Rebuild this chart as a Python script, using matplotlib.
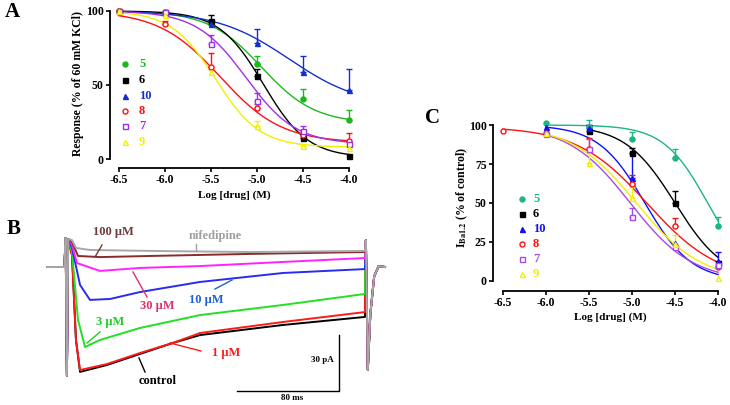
import numpy as np
import matplotlib
matplotlib.use('Agg')
import matplotlib.pyplot as plt
from matplotlib.lines import Line2D

plt.rcParams['font.family'] = ['Liberation Serif', 'DejaVu Serif']
plt.rcParams['font.weight'] = 'bold'
plt.rcParams['mathtext.fontset'] = 'stix'
plt.rcParams['axes.unicode_minus'] = False

W, H = 730, 405

# ---------------- data: panel A (contraction, % of 60 mM KCl) ----------------
compounds = ['5', '6', '10', '8', '7', '9']
a_dose = [-6.5, -6.0, -5.5, -5.0, -4.5, -4.0]
a_xticklabels = ['-6.5', '-6.0', '-5.5', '-5.0', '-4.5', '-4.0']
a_yticks = [0, 50, 100]

a_resp_5 = [100, 99.0, 91.0, 64.5, 40.5, 26.5]
a_resp_6 = [100, 99.5, 93.0, 56.0, 14.5, 2.3]
a_resp_10 = [100, 99.0, 91.0, 78.5, 59.0, 46.5]
a_resp_8 = [100, 91.5, 62.0, 34.5, 16.0, 12.0]
a_resp_7 = [100, 99.3, 78.0, 39.5, 19.0, 10.0]
a_resp_9 = [100, 97.5, 58.5, 22.5, 8.5, 7.7]

a_err_5 = [0, 0, 2.0, 5.0, 7.0, 6.5]
a_err_6 = [0, 0, 4.0, 4.5, 2.0, 0]
a_err_10 = [0, 0, 2.0, 9.0, 10.8, 14.0]
a_err_8 = [0, 2.0, 9.5, 3.0, 2.0, 5.4]
a_err_7 = [0, 0, 6.0, 5.2, 3.0, 0]
a_err_9 = [0, 0, 0, 3.0, 1.5, 0]

# fitted curve parameters: top, bottom, logIC50, Hill slope
a_fit_5 = [100, 24, -4.95, 1.5]
a_fit_6 = [100, 1, -4.93, 1.8]
a_fit_10 = [100, 35, -4.65, 1.1]
a_fit_8 = [100, 11, -5.40, 1.3]
a_fit_7 = [100, 10, -5.12, 1.6]
a_fit_9 = [100, 8, -5.45, 1.8]

# ---------------- data: panel C (I_Ba1.2, % of control) ----------------
c_xticks = [-6.5, -6.0, -5.5, -5.0, -4.5, -4.0]
c_xticklabels = ['-6.5', '-6.0', '-5.5', '-5.0', '-4.5', '-4.0']
c_yticks = [0, 25, 50, 75, 100]

c_dose_5 = [-6.0, -5.5, -5.0, -4.5, -4.0]
c_resp_5 = [101.5, 99.0, 90.8, 79.0, 35.1]
c_err_5 = [0, 4.0, 5.0, 5.4, 6.0]
c_fit_5 = [100, 0, -4.12, 1.7]

c_dose_6 = [-5.5, -5.0, -4.5, -4.0]
c_resp_6 = [96.1, 81.8, 50.3, 11.6]
c_err_6 = [3.9, 3.2, 7.5, 0]
c_fit_6 = [100, 0, -4.50, 1.5]

c_dose_10 = [-6.0, -5.5, -5.0, -4.5, -4.0]
c_resp_10 = [98.5, 98.0, 66.0, 24.4, 12.5]
c_err_10 = [0, 2.0, 16.0, 0, 6.0]
c_fit_10 = [100, 0, -4.85, 1.6]

c_dose_8 = [-6.5, -6.0, -5.5, -5.0, -4.5, -4.0]
c_resp_8 = [96.1, 95.1, 84.4, 61.9, 35.1, 9.0]
c_err_8 = [0, 0, 7.0, 6.0, 5.0, 0]
c_fit_8 = [99, 0, -4.82, 1.05]

c_dose_7 = [-6.0, -5.5, -5.0, -4.5, -4.0]
c_resp_7 = [94.0, 84.4, 41.1, 21.8, 10.5]
c_err_7 = [0, 6.4, 5.4, 0, 0]
c_fit_7 = [100, 0, -5.02, 1.2]

c_dose_9 = [-6.0, -5.5, -5.0, -4.5, -4.0]
c_resp_9 = [94.6, 75.8, 53.5, 24.0, 1.9]
c_err_9 = [0, 7.0, 7.0, 5.3, 0]
c_fit_9 = [100, 0, -4.95, 1.15]

# ---------------- data: panel B (current traces, ms / pA) ----------------
trace_labels = ['control', '1 μM', '3 μM', '10 μM', '30 μM', '100 μM', 'nifedipine']
t_control = [5.5, 8.6, 11.8, 32.9, 58.8, 84.7, 105.9, 171.0, 235.3]
i_control = [6.4, -39.0, -56.1, -52.4, -46.5, -40.6, -36.4, -31.0, -26.7]
t_1um = [5.5, 8.6, 11.8, 32.9, 58.8, 84.7, 105.9, 171.0, 235.3]
i_1um = [6.4, -39.0, -55.1, -51.9, -46.0, -40.6, -35.3, -29.4, -24.1]
t_3um = [5.5, 10.2, 15.7, 27.5, 58.8, 105.9, 171.0, 235.3]
i_3um = [8.0, -28.3, -42.8, -39.0, -32.6, -25.7, -20.3, -14.4]
t_10um = [5.5, 11.8, 19.6, 35.3, 58.8, 105.9, 171.0, 235.3]
i_10um = [10.2, -9.6, -17.6, -17.1, -13.4, -8.0, -3.2, -1.1]
t_30um = [5.5, 9.4, 27.5, 58.8, 105.9, 171.0, 235.3]
i_30um = [11.8, 2.1, -2.1, -0.5, 0.5, 2.7, 4.8]
t_100um = [5.5, 10.2, 27.5, 66.7, 145.1, 235.3]
i_100um = [13.4, 5.9, 5.3, 5.9, 7.0, 8.0]
t_nif = [5.5, 8.6, 19.6, 66.7, 145.1, 235.3]
i_nif = [14.4, 10.2, 9.1, 8.6, 8.0, 8.6]
# shared holding / capacitive transient segments
t_pre = [-14.0, -0.5, 0.5, 1.5, 2.5]
i_pre = [0.0, 0.0, 15.5, -58.0, 15.0]
t_tail = [236.0, 237.5, 239.5, 242.5, 246.0, 251.0]
i_tail = [14.4, -55.0, -25.0, -5.0, 0.5, 0.0]
scale_ms = 80
scale_pA = 30

# ---------------- styles ----------------
a_colors = ['#1DB81D', '#000000', '#1530C8', '#FF1010', '#A030E8', '#F0F000']
c_colors = ['#1DB584', '#000000', '#1010FF', '#FF1010', '#A848F0', '#F0F000']
markers = ['o', 's', '^', 'o', 's', '^']
filled = [True, True, True, False, False, False]
b_colors = ['#000000', '#FF1A1A', '#22E022', '#2A2AF0', '#FF22FF', '#8B2A2A', '#A8A8A8']


def hill(x, p):
    top, bot, lic, h = p
    return bot + (top - bot) / (1 + 10 ** ((x - lic) * h))


def rect(x0, y0, x1, y1):
    return [x0 / W, 1 - y1 / H, (x1 - x0) / W, (y1 - y0) / H]


def fp(x, y):
    return x / W, 1 - y / H


fig = plt.figure(figsize=(W / 100, H / 100), dpi=100)


def style_axes(ax, xspine, yspine, yb, xb):
    for s in ['top', 'right']:
        ax.spines[s].set_visible(False)
    ax.spines['left'].set_position(('data', xspine))
    ax.spines['bottom'].set_position(('data', yspine))
    ax.spines['left'].set_bounds(*yb)
    ax.spines['bottom'].set_bounds(*xb)
    for s in ['left', 'bottom']:
        ax.spines[s].set_linewidth(1.3)
    ax.tick_params(direction='out', length=3, width=1.2, labelsize=8.5, pad=1.5)
    ax.patch.set_visible(False)


def draw_series(ax, x, y, err, fit, col, mk, fl, x0):
    xs = np.linspace(x0, -4.0, 200)
    ax.plot(xs, hill(xs, fit), color=col, lw=1.0, zorder=2)
    xe = [a for a, e in zip(x, err) if e > 0]
    ye = [b for b, e in zip(y, err) if e > 0]
    ee = [e for e in err if e > 0]
    if ee:
        ax.errorbar(xe, ye, yerr=[np.zeros(len(ee)), ee], fmt='none', ecolor=col,
                    elinewidth=1.0, capsize=2.3, capthick=1.0, zorder=3)
    ax.plot(x, y, linestyle='none', marker=mk, ms=3.6,
            mfc=col if fl else 'white', mec=col, mew=1.0, zorder=4, clip_on=False)


# ---------------- panel A ----------------
ax_a = fig.add_axes(rect(105, 5, 355, 172))
ax_a.set_xlim(-6.652, -3.935)
ax_a.set_ylim(-8.78, 104.05)
style_axes(ax_a, -6.598, -6.08, (0, 100), (-6.5, -4.0))
ax_a.set_xticks(a_dose)
ax_a.set_xticklabels(a_xticklabels)
ax_a.set_yticks(a_yticks)
a_series = [(a_resp_5, a_err_5, a_fit_5), (a_resp_6, a_err_6, a_fit_6),
            (a_resp_10, a_err_10, a_fit_10), (a_resp_8, a_err_8, a_fit_8),
            (a_resp_7, a_err_7, a_fit_7), (a_resp_9, a_err_9, a_fit_9)]
for (r, e, f), col, mk, fl in zip(a_series, a_colors, markers, filled):
    draw_series(ax_a, a_dose, r, e, f, col, mk, fl, -6.5)

fig.text(*fp(78, 84), 'Response (% of 60 mM KCl)', rotation=90, ha='center', va='center', fontsize=8.5)
fig.text(*fp(234, 195), 'Log [drug] (M)', ha='center', va='center', fontsize=8)

a_leg_y = [64, 80, 96, 111, 126, 142]
for name, col, mk, fl, yy in zip(compounds, a_colors, markers, filled, a_leg_y):
    fig.add_artist(Line2D([125 / W], [1 - yy / H], transform=fig.transFigure, marker=mk, ms=3.6,
                          mfc=col if fl else 'white', mec=col, mew=1.0, linestyle='none'))
    fig.text(*fp(139, yy), name, color=col, ha='left', va='center', fontsize=9)

# ---------------- panel C ----------------
ax_c = fig.add_axes(rect(488, 118, 725, 296))
ax_c.set_xlim(-6.674, -3.919)
ax_c.set_ylim(-9.62, 104.49)
style_axes(ax_c, -6.616, -6.41, (0, 100), (-6.5, -4.0))
ax_c.set_xticks(c_xticks)
ax_c.set_xticklabels(c_xticklabels)
ax_c.set_yticks(c_yticks)
c_series = [(c_dose_5, c_resp_5, c_err_5, c_fit_5), (c_dose_6, c_resp_6, c_err_6, c_fit_6),
            (c_dose_10, c_resp_10, c_err_10, c_fit_10), (c_dose_8, c_resp_8, c_err_8, c_fit_8),
            (c_dose_7, c_resp_7, c_err_7, c_fit_7), (c_dose_9, c_resp_9, c_err_9, c_fit_9)]
for (d, r, e, f), col, mk, fl in zip(c_series, c_colors, markers, filled):
    draw_series(ax_c, d, r, e, f, col, mk, fl, d[0])

fig.text(*fp(462, 198), r'I$_{\mathbf{Ba1.2}}$ (% of control)', rotation=90, ha='center', va='center', fontsize=8.5)
fig.text(*fp(610, 317), 'Log [drug] (M)', ha='center', va='center', fontsize=8)

c_leg_y = [199, 214, 229, 244, 259, 274]
for name, col, mk, fl, yy in zip(compounds, c_colors, markers, filled, c_leg_y):
    fig.add_artist(Line2D([522 / W], [1 - yy / H], transform=fig.transFigure, marker=mk, ms=3.6,
                          mfc=col if fl else 'white', mec=col, mew=1.0, linestyle='none'))
    fig.text(*fp(533, yy), name, color=col, ha='left', va='center', fontsize=9)

# ---------------- panel B ----------------
ax_b = fig.add_axes(rect(40, 225, 390, 405))
ax_b.set_xlim(-19.6, 254.9)
ax_b.set_ylim(-73.8, 22.46)
ax_b.axis('off')
traces = [(t_control, i_control), (t_1um, i_1um), (t_3um, i_3um), (t_10um, i_10um),
          (t_30um, i_30um), (t_100um, i_100um), (t_nif, i_nif)]
for (tt, ii), col in zip(traces, b_colors):
    ax_b.plot(t_pre + tt + t_tail, i_pre + ii + i_tail, color=col, lw=1.4, solid_joinstyle='round')

# scale bars
sb_t1 = 215.0
sb_i0 = -66.3
ax_b.plot([sb_t1 - scale_ms, sb_t1, sb_t1], [sb_i0, sb_i0, sb_i0 + scale_pA], color='black', lw=1.0)
fig.text(*fp(322, 360), '30 pA', ha='center', va='center', fontsize=6.5)
fig.text(*fp(292, 398), '80 ms', ha='center', va='center', fontsize=6.5)

# trace labels with pointer lines
b_labels = [
    ('100 μM', '#6E3B3B', (113, 232), ((102, 245), (95, 257))),
    ('nifedipine', '#A0A0A0', (215, 236), ((196, 244), (196, 251))),
    ('30 μM', '#E0306A', (157, 306), ((133, 272), (147, 297))),
    ('10 μM', '#2060D8', (206, 300), ((215, 289), (232, 280))),
    ('3 μM', '#22CC22', (110, 322), ((100, 332), (87, 343))),
    ('1 μM', '#FF1A1A', (226, 353), ((201, 351), (170, 343))),
    ('control', '#000000', (158, 381), ((145, 372), (139, 358))),
]
for txt, col, (tx, ty), ((x1, y1), (x2, y2)) in b_labels:
    fig.text(*fp(tx, ty), txt, color=col, ha='center', va='center', fontsize=9)
    fig.add_artist(Line2D([x1 / W, x2 / W], [1 - y1 / H, 1 - y2 / H], transform=fig.transFigure,
                          color=col, lw=1.0))

# panel letters
fig.text(*fp(12, 12), 'A', ha='center', va='center', fontsize=15)
fig.text(*fp(14, 229), 'B', ha='center', va='center', fontsize=15)
fig.text(*fp(432, 118), 'C', ha='center', va='center', fontsize=15)

fig.savefig('out.png', dpi=100)
